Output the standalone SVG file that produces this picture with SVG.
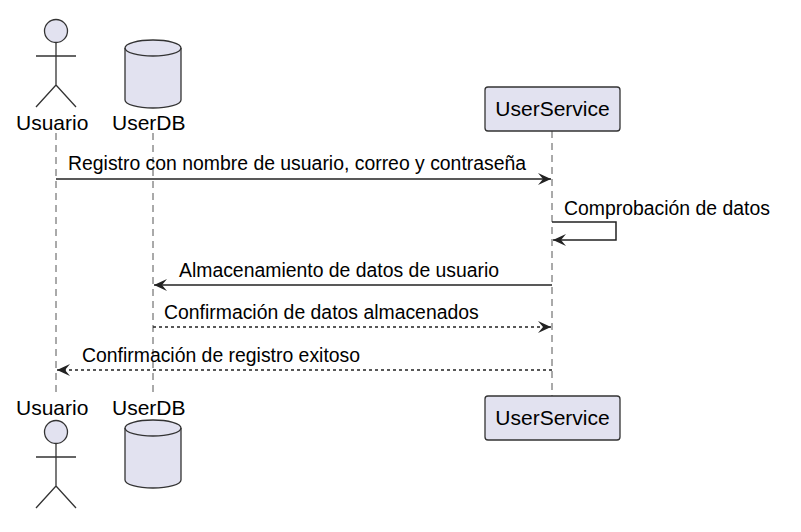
<svg xmlns="http://www.w3.org/2000/svg" width="801" height="532" viewBox="0 0 801 532">
<style>
text{font-family:"Liberation Sans",Arial,sans-serif;fill:#000}
.p{font-size:21px}
.m{font-size:19.4px}
.life{stroke:#555;stroke-width:1;stroke-dasharray:7,5}
.fig{fill:#e2e2f0;stroke:#333;stroke-width:1.3}
.ln{stroke:#222;stroke-width:1.5;fill:none}
.dash{stroke-dasharray:3,3}
</style>
<defs>
<marker id="a" markerWidth="14" markerHeight="12" refX="13" refY="6" orient="auto" markerUnits="userSpaceOnUse">
<path d="M0,0 L13,6 L0,12 L5,6 Z" fill="#222"/>
</marker>
</defs>
<g id="lifelines">
<line class="life" x1="56" y1="133" x2="56" y2="396"/>
<line class="life" x1="153" y1="133" x2="153" y2="396"/>
<line class="life" x1="552" y1="131" x2="552" y2="396"/>
</g>
<g id="usuario">
<circle class="fig" cx="56" cy="31" r="11.5"/>
<path class="ln" d="M56,43 V85 M36,56 H76 M36,107 L56,85 L76,107" style="stroke:#333;stroke-width:1.3"/>
<text class="p" x="16" y="130">Usuario</text>
</g>
<g id="usuario-bottom">
<text class="p" x="16" y="415">Usuario</text>
<circle class="fig" cx="56" cy="432" r="11.5"/>
<path class="ln" d="M56,444 V486 M36,457 H76 M36,508 L56,486 L76,508" style="stroke:#333;stroke-width:1.3"/>
</g>
<g id="userdb">
<path class="fig" d="M125,48 A28,8 0 0 1 181,48 V100 A28,8 0 0 1 125,100 Z"/>
<path class="fig" style="fill:none" d="M125,48 A28,8 0 0 0 181,48"/>
<text class="p" x="112" y="130">UserDB</text>
</g>
<g id="userdb-bottom">
<text class="p" x="112" y="415">UserDB</text>
<path class="fig" d="M125,428 A28,8 0 0 1 181,428 V480 A28,8 0 0 1 125,480 Z"/>
<path class="fig" style="fill:none" d="M125,428 A28,8 0 0 0 181,428"/>
</g>
<g id="userservice">
<rect class="fig" x="485" y="87" width="135" height="44" rx="3"/>
<text class="p" x="552.5" y="116" text-anchor="middle">UserService</text>
</g>
<g id="userservice-bottom">
<rect class="fig" x="485" y="396" width="135" height="44" rx="3"/>
<text class="p" x="552.5" y="425" text-anchor="middle">UserService</text>
</g>
<g id="connectors">
<line class="ln" x1="56" y1="179" x2="551" y2="179" marker-end="url(#a)"/>
<text class="m" x="68" y="170">Registro con nombre de usuario, correo y contraseña</text>
<path class="ln" d="M552,222 H616 V240 H553" marker-end="url(#a)"/>
<text class="m" x="564" y="215">Comprobación de datos</text>
<line class="ln" x1="552" y1="285" x2="154" y2="285" marker-end="url(#a)"/>
<text class="m" x="179" y="277">Almacenamiento de datos de usuario</text>
<line class="ln dash" x1="153" y1="327" x2="551" y2="327" marker-end="url(#a)"/>
<text class="m" x="164" y="319">Confirmación de datos almacenados</text>
<line class="ln dash" x1="552" y1="370" x2="57" y2="370" marker-end="url(#a)"/>
<text class="m" x="82" y="362">Confirmación de registro exitoso</text>
</g>
</svg>
